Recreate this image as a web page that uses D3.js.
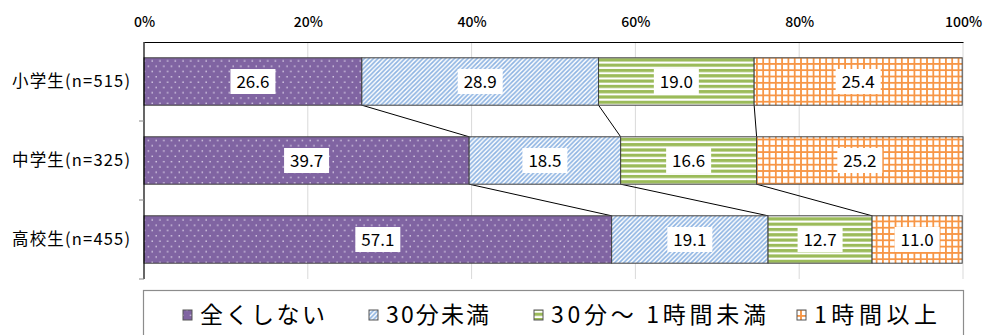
<!DOCTYPE html>
<html>
<head>
<meta charset="utf-8">
<script src="https://cdn.jsdelivr.net/npm/d3@7"></script>
<style>
  body { margin: 0; background: #fff; }
  svg { display: block; }
  text { font-family: "Noto Sans CJK JP", "Noto Sans", sans-serif; fill: #000; }
</style>
</head>
<body>
<svg id="chart" width="984" height="335"></svg>
<script>
// Groups (rows) and answer categories (stacked segments)
const categories = ["小学生(n=515)", "中学生(n=325)", "高校生(n=455)"];
const seriesNames = ["全くしない", "30分未満", "30分～ 1時間未満", "1時間以上"];
const noneValues = [26.6, 39.7, 57.1];
const under30Values = [28.9, 18.5, 19.1];
const from30to60Values = [19.0, 16.6, 12.7];
const over60Values = [25.4, 25.2, 11.0];
const tickValues = [0, 20, 40, 60, 80, 100];
const tickLabels = ["0%", "20%", "40%", "60%", "80%", "100%"];

const seriesValues = [noneValues, under30Values, from30to60Values, over60Values];

const svg = d3.select("#chart");
const margin = { left: 144, right: 21, top: 42, bottom: 56 };
const W = 984, H = 335;
const x = d3.scaleLinear().domain([0, 100]).range([margin.left, W - margin.right]);
const y = d3.scaleBand().domain(categories).range([margin.top, H - margin.bottom]).paddingInner(0.4).paddingOuter(0.2);

// ---- fill patterns ----
const defs = svg.append("defs");

const pDots = defs.append("pattern").attr("id", "pat0").attr("patternUnits", "userSpaceOnUse")
  .attr("width", 7.7).attr("height", 10.6);
pDots.append("rect").attr("width", 7.7).attr("height", 10.6).attr("fill", "#8064A2");
pDots.append("rect").attr("x", 1.5).attr("y", 2).attr("width", 1.3).attr("height", 1.3).attr("fill", "#ece6f4");
pDots.append("rect").attr("x", 5.3).attr("y", 7.3).attr("width", 1.3).attr("height", 1.3).attr("fill", "#ece6f4");

const pDiag = defs.append("pattern").attr("id", "pat1").attr("patternUnits", "userSpaceOnUse")
  .attr("width", 4.5).attr("height", 4.5);
pDiag.append("rect").attr("width", 4.5).attr("height", 4.5).attr("fill", "#fff");
pDiag.append("path").attr("d", "M-1,1 L1,-1 M0,4.5 L4.5,0 M3.5,5.5 L5.5,3.5")
  .attr("stroke", "#8DB3E2").attr("stroke-width", 1.7);

const pStripe = defs.append("pattern").attr("id", "pat2").attr("patternUnits", "userSpaceOnUse")
  .attr("width", 8).attr("height", 5.3);
pStripe.append("rect").attr("width", 8).attr("height", 5.3).attr("fill", "#fff");
pStripe.append("rect").attr("y", 0).attr("width", 8).attr("height", 3.2).attr("fill", "#9BBB59");

const pGrid = defs.append("pattern").attr("id", "pat3").attr("patternUnits", "userSpaceOnUse")
  .attr("width", 6.3).attr("height", 6.3);
pGrid.append("rect").attr("width", 6.3).attr("height", 6.3).attr("fill", "#fff");
pGrid.append("rect").attr("x", 0).attr("width", 1.8).attr("height", 6.3).attr("fill", "#F79646");
pGrid.append("rect").attr("y", 0).attr("width", 6.3).attr("height", 1.8).attr("fill", "#F79646");

// ---- gridlines ----
svg.append("g").selectAll("line").data(tickValues.slice(1)).join("line")
  .attr("x1", d => x(d)).attr("x2", d => x(d))
  .attr("y1", margin.top).attr("y2", H - margin.bottom)
  .attr("stroke", "#d9d9d9").attr("stroke-width", 1);

// ---- top axis (percent) ----
const xAxis = d3.axisTop(x).tickValues(tickValues).tickFormat((d, i) => tickLabels[i]).tickSize(0).tickPadding(15);
const gx = svg.append("g").attr("transform", `translate(0,${margin.top})`).call(xAxis);
gx.select(".domain").attr("stroke", "#000").attr("stroke-width", 1.2);
gx.selectAll("text").attr("font-size", 14).attr("font-weight", 500)
  .style("font-family", "'Noto Sans CJK JP', sans-serif");

// ---- stacked data ----
const rows = categories.map((c, i) => {
  const o = { cat: c };
  seriesNames.forEach((s, k) => { o[s] = seriesValues[k][i]; });
  return o;
});
const stacked = d3.stack().keys(seriesNames)(rows);

// connector lines between consecutive rows at each segment boundary
const conn = svg.append("g");
for (let k = 0; k < seriesNames.length - 1; k++) {
  for (let i = 0; i < categories.length - 1; i++) {
    const a = stacked[k][i][1], b = stacked[k][i + 1][1];
    conn.append("line")
      .attr("x1", x(a)).attr("y1", y(categories[i]) + y.bandwidth())
      .attr("x2", x(b)).attr("y2", y(categories[i + 1]))
      .attr("stroke", "#000").attr("stroke-width", 1);
  }
}

// segments
const segs = svg.append("g");
stacked.forEach((layer, k) => {
  segs.selectAll(null).data(layer).join("rect")
    .attr("x", d => x(d[0])).attr("y", d => y(d.data.cat))
    .attr("width", d => x(d[1]) - x(d[0])).attr("height", y.bandwidth())
    .attr("fill", `url(#pat${k})`)
    .attr("stroke", "#404040").attr("stroke-width", 1);
});

// value labels in white boxes
const labs = svg.append("g");
stacked.forEach((layer, k) => {
  layer.forEach(d => {
    const cx = (x(d[0]) + x(d[1])) / 2;
    const cy = y(d.data.cat) + y.bandwidth() / 2;
    labs.append("rect").attr("x", cx - 22.5).attr("y", cy - 12.5)
      .attr("width", 45).attr("height", 25).attr("fill", "#fff");
    labs.append("text").attr("x", cx).attr("y", cy).attr("dy", "0.36em")
      .attr("text-anchor", "middle").attr("font-size", 17)
      .text(d3.format(".1f")(d.data[seriesNames[k]]));
  });
});

// ---- left axis with category labels ----
const gy = svg.append("g").attr("transform", `translate(${margin.left},0)`);
gy.append("line").attr("x1", 0).attr("x2", 0).attr("y1", margin.top).attr("y2", H - margin.bottom)
  .attr("stroke", "#000").attr("stroke-width", 1.2);
const bandEdges = categories.map((c, i) => margin.top + (i + 1) * (H - margin.bottom - margin.top) / categories.length);
gy.selectAll("line.tk").data(bandEdges).join("line").attr("class", "tk")
  .attr("x1", -5).attr("x2", 0).attr("y1", d => d).attr("y2", d => d)
  .attr("stroke", "#888").attr("stroke-width", 1);
gy.selectAll("text").data(categories).join("text")
  .attr("x", -14).attr("y", d => y(d) + y.bandwidth() / 2).attr("dy", "0.36em")
  .attr("text-anchor", "end").attr("font-size", 16.5)
  .attr("textLength", 118).attr("lengthAdjust", "spacing").text(d => d);

// ---- legend ----
const leg = svg.append("g");
leg.append("rect").attr("x", 143.5).attr("y", 290.5).attr("width", 820).attr("height", 60)
  .attr("fill", "#fff").attr("stroke", "#8c8c8c").attr("stroke-width", 1.2);
const legX = [183, 369, 534, 797];
const legTextW = [125, 103, 215, 123];
seriesNames.forEach((s, k) => {
  leg.append("rect").attr("x", legX[k]).attr("y", 310).attr("width", 9).attr("height", 10)
    .attr("fill", `url(#pat${k})`).attr("stroke", "#555").attr("stroke-width", 1);
  leg.append("text").attr("x", legX[k] + 17).attr("y", 315).attr("dy", "0.36em")
    .attr("font-size", 23).attr("textLength", legTextW[k]).attr("lengthAdjust", "spacing").text(s);
});
</script>
</body>
</html>
